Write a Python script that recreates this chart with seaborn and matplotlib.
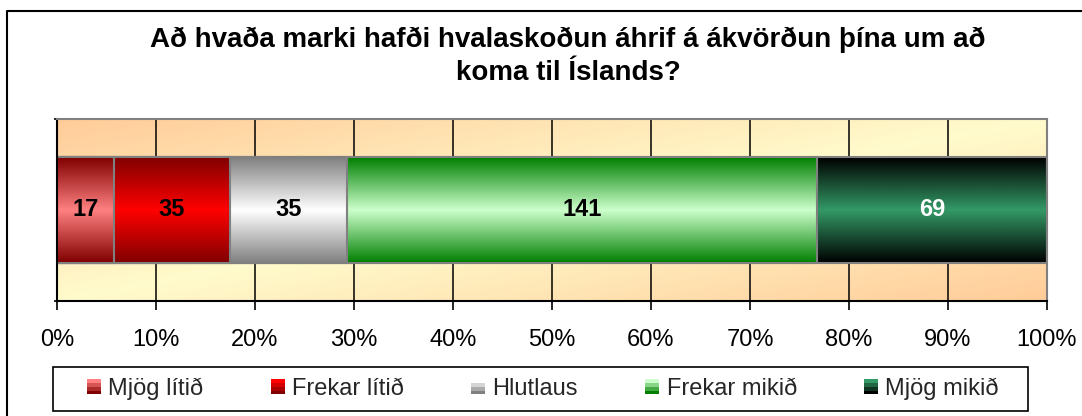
import numpy as np
import pandas as pd
import seaborn as sns
import matplotlib.pyplot as plt
from matplotlib.colors import LinearSegmentedColormap
from matplotlib.patches import Patch, Rectangle
from matplotlib.legend_handler import HandlerBase
from matplotlib.lines import Line2D

categories = ['Mjög lítið', 'Frekar lítið', 'Hlutlaus', 'Frekar mikið', 'Mjög mikið']
counts = [17, 35, 35, 141, 69]
edge_colors = ['#800000', '#800000', '#808080', '#008000', '#000000']
mid_colors = ['#FF8080', '#FF0000', '#FFFFFF', '#CCFFCC', '#339966']
label_colors = ['black', 'black', 'black', 'black', 'white']
xticks = list(range(0, 101, 10))
title = 'Að hvaða marki hafði hvalaskoðun áhrif á ákvörðun þína um að\nkoma til Íslands?'

df = pd.DataFrame({'cat': categories, 'n': counts})
df['pct'] = df['n'] / df['n'].sum() * 100
df['cum'] = df['pct'].cumsum()
df['start'] = df['cum'] - df['pct']
df['row'] = ''

sns.set_theme(style='white')
plt.rcParams['font.family'] = ['Liberation Sans', 'DejaVu Sans']

W, H = 1082, 416
fig = plt.figure(figsize=(W / 100, H / 100), dpi=100)
ax = fig.add_axes([57 / W, 1 - 301 / H, 990 / W, 182 / H])

# diagonal orange/yellow background of the plot area
u, v = np.meshgrid(np.linspace(0, 1, 300), np.linspace(1, 0, 100))
bg_cmap = LinearSegmentedColormap.from_list('bg', ['#FFFBCC', '#FFCC99'])
ax.imshow(np.abs(u - v), cmap=bg_cmap, extent=[0, 1, 0, 1], transform=ax.transAxes,
          aspect='auto', zorder=0, interpolation='bilinear')

# stacked bar: draw cumulative bars from the longest to the shortest
bar_h = 0.58
prof = 1 - np.abs(np.linspace(-1, 1, 200))
z = 3
for i in reversed(range(len(df))):
    sns.barplot(data=df.iloc[[i]], x='cum', y='row', orient='h', width=bar_h,
                color=mid_colors[i], errorbar=None, ax=ax,
                edgecolor='#808080', linewidth=1.5)
    p = ax.patches[-1]
    p.set_facecolor('none')
    p.set_zorder(z + 1)
    y0, y1 = p.get_y(), p.get_y() + p.get_height()
    cmap = LinearSegmentedColormap.from_list('g%d' % i, [edge_colors[i], mid_colors[i]])
    ax.imshow(prof[:, None], cmap=cmap, vmin=0, vmax=1, extent=[0, df['cum'][i], y0, y1],
              aspect='auto', zorder=z, interpolation='bilinear')
    z += 2

for i, r in df.iterrows():
    ax.text((r['start'] + r['cum']) / 2, 0, str(r['n']), ha='center', va='center',
            fontsize=17, fontweight='bold', color=label_colors[i], zorder=30)

ax.set_xlim(0, 100)
ax.set_ylim(0.5, -0.5)
ax.set_xticks(xticks)
ax.set_xticklabels([f'{x}%' for x in xticks])
ax.set_yticks([-0.5, 0.5])
ax.set_yticklabels([])
ax.set_xlabel('')
ax.set_ylabel('')
ax.tick_params(axis='x', direction='out', length=6.5, width=1.2, color='black',
               labelsize=17, labelcolor='black', pad=13.5, bottom=True)
ax.tick_params(axis='y', direction='out', length=2.5, width=1.2, color='black', left=True)
ax.set_axisbelow(True)
ax.xaxis.grid(True, color='black', lw=1.1)
for s in ['left', 'bottom']:
    ax.spines[s].set_color('black')
for s in ['top', 'right']:
    ax.spines[s].set_color('#808080')
for s in ax.spines.values():
    s.set_linewidth(1.5)
    s.set_zorder(40)
    s.set_visible(True)

# baseline of the last title line
fig.text(568 / W, 1 - 80 / H, title, ha='center', va='baseline', fontsize=20,
         fontweight='bold', linespacing=1.34, color='black')


class GradHandler(HandlerBase):
    def create_artists(self, legend, orig_handle, xdescent, ydescent, width, height,
                       fontsize, trans):
        cols = orig_handle.grad
        n = len(cols)
        arts = []
        for j, c in enumerate(cols):
            arts.append(Rectangle((-xdescent, -ydescent + (n - 1 - j) * height / n), width,
                                  height / n, facecolor=c, edgecolor='none', transform=trans))
        return arts


handles = []
for i, c in enumerate(categories):
    h = Patch(label=c)
    cm = LinearSegmentedColormap.from_list('l%d' % i, [mid_colors[i], edge_colors[i]])
    h.grad = [cm(k) for k in np.linspace(0, 1, 4)]
    handles.append(h)

fig.legend(handles=handles, loc='center', bbox_to_anchor=(543 / W, 1 - 389 / H), ncol=5,
           frameon=False, fontsize=17, handlelength=0.6, handleheight=0.6,
           handletextpad=0.3, columnspacing=2.85,
           handler_map={h: GradHandler() for h in handles})
fig.add_artist(Rectangle((53 / W, 1 - 411 / H), 975 / W, 44 / H, transform=fig.transFigure,
                         fill=False, edgecolor='black', lw=1.2))
fig.add_artist(Line2D([7 / W, 7 / W, 1], [0, 1 - 11 / H, 1 - 11 / H],
                      transform=fig.transFigure, color='black', lw=1.5))

fig.savefig('out.png', dpi=100)
